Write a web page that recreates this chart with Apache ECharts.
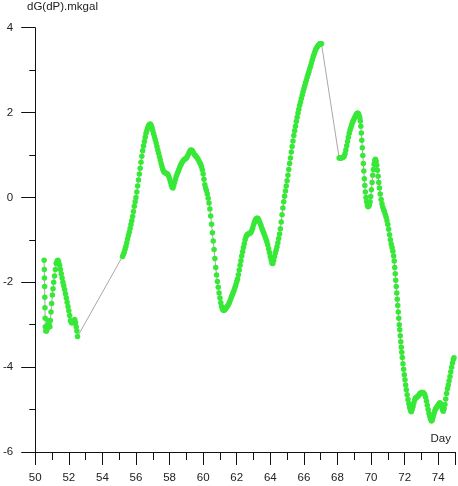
<!DOCTYPE html>
<html>
<head>
<meta charset="utf-8">
<script src="https://cdn.jsdelivr.net/npm/echarts@6/dist/echarts.min.js"></script>
<style>
html,body{margin:0;padding:0;background:#fff;}
#c{width:458px;height:486px;}
</style>
</head>
<body>
<div id="c"></div>
<script>
// segment 1: days 50.5 - 52.5
var days1 = [50.53,50.54,50.55,50.56,50.57,50.58,50.59,50.60,50.63,50.67,50.71,50.75,50.79,50.83,50.87,50.90,50.94,50.98,51.02,51.06,51.10,51.15,51.20,51.25,51.30,51.35,51.40,51.45,51.50,51.55,51.60,51.65,51.70,51.75,51.80,51.85,51.90,51.95,52.00,52.05,52.10,52.15,52.20,52.25,52.30,52.35,52.40,52.44,52.48,52.52];
var dG1 = [-1.48,-1.70,-1.90,-2.10,-2.35,-2.60,-2.85,-3.05,-3.15,-3.15,-3.10,-3.00,-2.90,-3.00,-3.05,-2.90,-2.70,-2.50,-2.30,-2.15,-2.00,-1.85,-1.70,-1.56,-1.50,-1.48,-1.52,-1.60,-1.70,-1.80,-1.90,-2.00,-2.08,-2.17,-2.27,-2.37,-2.47,-2.57,-2.67,-2.78,-2.90,-2.95,-2.96,-2.92,-2.90,-2.88,-2.95,-3.05,-3.15,-3.28];
// segment 2: days 55.2 - 67.05
var days2 = [55.20,55.25,55.30,55.35,55.40,55.45,55.50,55.55,55.60,55.65,55.70,55.75,55.80,55.85,55.90,55.95,56.00,56.05,56.10,56.15,56.20,56.25,56.30,56.35,56.40,56.45,56.50,56.55,56.60,56.65,56.70,56.75,56.80,56.85,56.90,56.95,57.00,57.05,57.10,57.15,57.20,57.25,57.30,57.35,57.40,57.45,57.50,57.55,57.60,57.65,57.70,57.75,57.80,57.85,57.90,57.95,58.00,58.05,58.10,58.15,58.20,58.25,58.30,58.35,58.40,58.45,58.50,58.55,58.60,58.65,58.70,58.75,58.80,58.85,58.90,58.95,59.00,59.05,59.10,59.15,59.20,59.25,59.30,59.35,59.40,59.45,59.50,59.55,59.60,59.65,59.70,59.75,59.80,59.85,59.90,59.95,60.00,60.05,60.10,60.15,60.20,60.25,60.30,60.35,60.40,60.45,60.50,60.55,60.60,60.65,60.70,60.75,60.80,60.85,60.90,60.95,61.00,61.05,61.10,61.15,61.20,61.25,61.30,61.35,61.40,61.45,61.50,61.55,61.60,61.65,61.70,61.75,61.80,61.85,61.90,61.95,62.00,62.05,62.10,62.15,62.20,62.25,62.30,62.35,62.40,62.45,62.50,62.55,62.60,62.65,62.70,62.75,62.80,62.85,62.90,62.95,63.00,63.05,63.10,63.15,63.20,63.25,63.30,63.35,63.40,63.45,63.50,63.55,63.60,63.65,63.70,63.75,63.80,63.85,63.90,63.95,64.00,64.05,64.10,64.15,64.20,64.25,64.30,64.35,64.40,64.45,64.50,64.55,64.60,64.65,64.70,64.75,64.80,64.85,64.90,64.95,65.00,65.05,65.10,65.15,65.20,65.25,65.30,65.35,65.40,65.45,65.50,65.55,65.60,65.65,65.70,65.75,65.80,65.85,65.90,65.95,66.00,66.05,66.10,66.15,66.20,66.25,66.30,66.35,66.40,66.45,66.50,66.55,66.60,66.65,66.70,66.75,66.80,66.85,66.90,66.95,67.00,67.05];
var dG2 = [-1.39,-1.34,-1.29,-1.22,-1.15,-1.07,-0.98,-0.90,-0.82,-0.73,-0.64,-0.55,-0.45,-0.33,-0.21,-0.10,0.00,0.13,0.27,0.41,0.55,0.69,0.83,0.97,1.10,1.21,1.32,1.42,1.51,1.58,1.64,1.69,1.72,1.73,1.70,1.65,1.58,1.50,1.43,1.36,1.28,1.20,1.12,1.04,0.96,0.88,0.80,0.73,0.66,0.61,0.59,0.58,0.57,0.56,0.54,0.50,0.44,0.37,0.30,0.24,0.22,0.28,0.36,0.43,0.50,0.55,0.60,0.65,0.70,0.75,0.79,0.83,0.86,0.88,0.90,0.91,0.93,0.96,1.00,1.04,1.08,1.11,1.12,1.10,1.07,1.03,1.00,0.98,0.96,0.93,0.90,0.86,0.82,0.78,0.73,0.65,0.55,0.43,0.30,0.22,0.16,0.08,-0.02,-0.13,-0.27,-0.44,-0.63,-0.83,-1.03,-1.23,-1.44,-1.65,-1.83,-1.98,-2.12,-2.25,-2.37,-2.48,-2.57,-2.63,-2.66,-2.66,-2.64,-2.62,-2.59,-2.56,-2.53,-2.49,-2.44,-2.38,-2.33,-2.28,-2.23,-2.18,-2.12,-2.06,-1.99,-1.92,-1.82,-1.71,-1.60,-1.49,-1.38,-1.28,-1.18,-1.09,-1.00,-0.93,-0.89,-0.87,-0.86,-0.85,-0.84,-0.82,-0.78,-0.72,-0.65,-0.59,-0.54,-0.51,-0.49,-0.49,-0.52,-0.57,-0.62,-0.67,-0.73,-0.78,-0.83,-0.88,-0.93,-0.99,-1.05,-1.12,-1.21,-1.30,-1.39,-1.47,-1.55,-1.56,-1.48,-1.39,-1.31,-1.24,-1.16,-1.07,-0.97,-0.86,-0.74,-0.58,-0.41,-0.25,-0.10,0.03,0.15,0.27,0.39,0.52,0.66,0.80,0.93,1.07,1.20,1.33,1.46,1.57,1.68,1.79,1.89,1.99,2.08,2.17,2.25,2.33,2.41,2.49,2.56,2.63,2.70,2.77,2.84,2.90,2.97,3.04,3.10,3.17,3.24,3.31,3.37,3.43,3.48,3.52,3.55,3.58,3.60,3.62,3.62,3.62];
// segment 3: days 68.1 - 75
var days3 = [68.10,68.15,68.20,68.25,68.30,68.35,68.40,68.45,68.50,68.55,68.60,68.65,68.70,68.75,68.80,68.85,68.90,68.95,69.00,69.05,69.10,69.15,69.20,69.25,69.30,69.33,69.36,69.39,69.42,69.45,69.48,69.51,69.54,69.57,69.60,69.63,69.66,69.70,69.74,69.78,69.82,69.86,69.90,69.94,69.98,70.02,70.06,70.10,70.14,70.18,70.22,70.26,70.30,70.34,70.38,70.42,70.46,70.50,70.55,70.60,70.65,70.70,70.75,70.80,70.85,70.90,70.95,71.00,71.05,71.10,71.15,71.20,71.25,71.30,71.35,71.38,71.41,71.44,71.47,71.50,71.53,71.56,71.59,71.62,71.65,71.68,71.71,71.74,71.77,71.80,71.83,71.86,71.90,71.94,71.98,72.02,72.06,72.10,72.15,72.20,72.25,72.30,72.35,72.40,72.45,72.50,72.55,72.60,72.65,72.70,72.75,72.80,72.85,72.90,72.95,73.00,73.05,73.10,73.15,73.20,73.25,73.30,73.35,73.40,73.45,73.50,73.55,73.60,73.65,73.70,73.75,73.80,73.85,73.90,73.95,74.00,74.05,74.10,74.15,74.20,74.25,74.30,74.35,74.40,74.45,74.50,74.55,74.60,74.65,74.70,74.75,74.80,74.85,74.90,74.94];
var dG3 = [0.93,0.93,0.93,0.93,0.94,0.95,0.97,1.03,1.12,1.22,1.32,1.42,1.51,1.59,1.65,1.71,1.77,1.82,1.86,1.90,1.94,1.97,1.99,1.97,1.92,1.88,1.80,1.68,1.52,1.35,1.17,0.99,0.80,0.62,0.44,0.28,0.13,0.00,-0.10,-0.18,-0.22,-0.21,-0.17,-0.10,0.02,0.18,0.35,0.52,0.66,0.78,0.87,0.90,0.85,0.76,0.64,0.50,0.35,0.22,0.08,-0.05,-0.15,-0.23,-0.29,-0.34,-0.40,-0.47,-0.55,-0.64,-0.75,-0.88,-1.00,-1.10,-1.18,-1.27,-1.38,-1.50,-1.65,-1.80,-1.95,-2.10,-2.25,-2.40,-2.55,-2.70,-2.85,-3.00,-3.12,-3.26,-3.40,-3.53,-3.65,-3.77,-3.92,-4.05,-4.18,-4.30,-4.42,-4.53,-4.65,-4.76,-4.86,-4.95,-5.02,-5.05,-5.00,-4.92,-4.84,-4.77,-4.73,-4.72,-4.70,-4.68,-4.66,-4.63,-4.61,-4.60,-4.60,-4.60,-4.62,-4.65,-4.71,-4.80,-4.90,-5.00,-5.09,-5.17,-5.23,-5.27,-5.24,-5.17,-5.10,-5.03,-4.98,-4.95,-4.92,-4.89,-4.86,-4.84,-4.86,-4.93,-5.00,-5.04,-4.98,-4.88,-4.75,-4.62,-4.51,-4.42,-4.32,-4.22,-4.11,-4.00,-3.90,-3.82,-3.78];
var yTitle = 'dG(dP).mkgal';
var xTitle = 'Day';

var days = days1.concat(days2, days3);
var dG = dG1.concat(dG2, dG3);
var pts = days.map(function(d, i){ return [d, dG[i]]; });
var chart = echarts.init(document.getElementById('c'), null, {renderer:'canvas'});
var font = '"Liberation Sans", Arial, sans-serif';
chart.setOption({
  animation: false,
  backgroundColor: '#ffffff',
  grid: {left: 31.7, top: 27.7, right: 0.5, bottom: 34, containLabel: false},
  xAxis: {
    type: 'value', min: 50, max: 75, interval: 2,
    axisLine: {show: true, onZero: false, lineStyle: {color: '#111', width: 1}},
    axisTick: {show: true, length: 13, lineStyle: {color: '#111'}},
    minorTick: {show: true, splitNumber: 2, length: 8, lineStyle: {color: '#111'}},
    splitLine: {show: false},
    axisLabel: {margin: 20, color: '#222', fontSize: 11.5, fontFamily: font,
      formatter: function(v){ return (Math.round(v) % 2 === 0 && v < 75) ? String(v) : ''; }}
  },
  yAxis: {
    type: 'value', min: -6, max: 4, interval: 2,
    axisLine: {show: true, onZero: false, lineStyle: {color: '#111', width: 1}},
    axisTick: {show: true, length: 14, lineStyle: {color: '#111'}},
    minorTick: {show: true, splitNumber: 2, length: 6, lineStyle: {color: '#111'}},
    splitLine: {show: false},
    axisLabel: {margin: 22, color: '#222', fontSize: 11.5, fontFamily: font}
  },
  graphic: [
    {type: 'text', left: 27, top: 1, style: {text: yTitle, fill: '#222', font: '11.5px ' + font}},
    {type: 'text', right: 7, top: 433, style: {text: xTitle, fill: '#222', font: '11.5px ' + font}}
  ],
  series: [{
    type: 'line',
    data: pts,
    showAllSymbol: true,
    symbol: 'circle',
    symbolSize: 5.5,
    lineStyle: {color: '#a8a8a8', width: 1},
    itemStyle: {color: '#38e838', borderWidth: 0},
    z: 3
  }]
});
</script>
</body>
</html>
